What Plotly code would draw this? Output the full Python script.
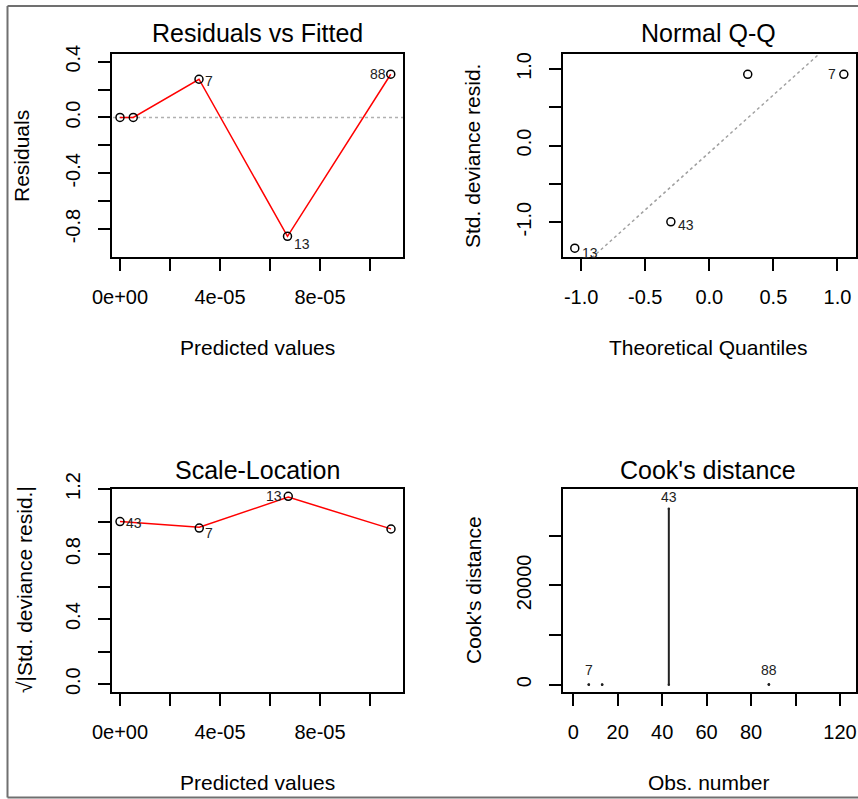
import plotly.graph_objects as go

W, H = 858, 799
FONT = "Liberation Sans, Arial, sans-serif"

# ---------------- data ----------------
# Residuals vs Fitted
rvf_x = [0.0, 5.3e-6, 3.16e-5, 6.7e-5, 1.083e-4]
rvf_y = [0.0, 0.0, 0.274, -0.852, 0.31]
rvf_lab = ["", "", "7", "13", "88"]

# Normal Q-Q
qq_theo = [-1.05, -0.30, 0.30, 1.05]
qq_resid = [-1.34, -0.996, 0.93, 0.93]
qq_lab = ["13", "43", "", "7"]
qq_slope, qq_icpt = 1.50, -0.09

# Scale-Location
sl_x = [0.0, 3.17e-5, 6.73e-5, 1.084e-4]
sl_y = [1.0, 0.96, 1.155, 0.954]
sl_smooth = [1.0, 0.965, 1.15, 0.955]
sl_lab = ["43", "7", "13", ""]

# Cook's distance
ck_obs = [7, 13, 43, 88]
ck_dist = [60, 40, 35400, 70]
ck_lab = ["7", "", "43", "88"]

# tick definitions
fit_ticks = [0, 2e-5, 4e-5, 6e-5, 8e-5, 1e-4]
fit_text = ["0e+00", "", "4e-05", "", "8e-05", ""]
res_ticks = [0.4, 0.2, 0.0, -0.2, -0.4, -0.6, -0.8]
res_text = ["0.4", "", "0.0", "", "-0.4", "", "-0.8"]
qqx_ticks = [-1.0, -0.5, 0.0, 0.5, 1.0]
qqx_text = ["-1.0", "-0.5", "0.0", "0.5", "1.0"]
qqy_ticks = [-1.0, -0.5, 0.0, 0.5, 1.0]
qqy_text = ["-1.0", "", "0.0", "", "1.0"]
sly_ticks = [0.0, 0.2, 0.4, 0.6, 0.8, 1.0, 1.2]
sly_text = ["0.0", "", "0.4", "", "0.8", "", "1.2"]
ckx_ticks = [0, 20, 40, 60, 80, 100, 120]
ckx_text = ["0", "20", "40", "60", "80", "", "120"]
cky_ticks = [0, 10000, 20000, 30000]
cky_text = ["0", "", "20000", ""]

# ---------------- layout helpers ----------------
def px_x(p):
    return p / W

def px_y(p):
    return 1 - p / H

boxes = {
    1: (112, 403, 54, 257),
    2: (563, 856, 54, 257),
    3: (112, 403, 489, 692),
    4: (563, 856, 489, 692),
}

fig = go.Figure()

marker = dict(symbol="circle-open", size=8, color="black", line=dict(width=1.5, color="black"))

# Panel 1
fig.add_trace(go.Scatter(x=[-1e-5, 1.2e-4], y=[0, 0], mode="lines",
                         line=dict(color="#b0b0b0", width=1.5, dash="dot"),
                         xaxis="x", yaxis="y", hoverinfo="skip"))
fig.add_trace(go.Scatter(x=rvf_x, y=rvf_y, mode="lines", line=dict(color="red", width=1.5),
                         xaxis="x", yaxis="y"))
fig.add_trace(go.Scatter(x=rvf_x, y=rvf_y, mode="markers", marker=marker, xaxis="x", yaxis="y"))

# Panel 2
qq_line_x = [-1.3, 1.3]
qq_line_y = [qq_icpt + qq_slope * v for v in qq_line_x]
fig.add_trace(go.Scatter(x=qq_line_x, y=qq_line_y, mode="lines",
                         line=dict(color="#a0a0a0", width=1.5, dash="dot"),
                         xaxis="x2", yaxis="y2"))
fig.add_trace(go.Scatter(x=qq_theo, y=qq_resid, mode="markers", marker=marker, xaxis="x2", yaxis="y2"))

# Panel 3
fig.add_trace(go.Scatter(x=sl_x, y=sl_smooth, mode="lines", line=dict(color="red", width=1.5),
                         xaxis="x3", yaxis="y3"))
fig.add_trace(go.Scatter(x=sl_x, y=sl_y, mode="markers", marker=marker, xaxis="x3", yaxis="y3"))

# Panel 4
stem_x, stem_y = [], []
for o, d in zip(ck_obs, ck_dist):
    stem_x += [o, o, None]
    stem_y += [0, d, None]
fig.add_trace(go.Scatter(x=stem_x, y=stem_y, mode="lines+markers",
                         line=dict(color="#222222", width=2),
                         marker=dict(size=2.5, color="#222222"),
                         xaxis="x4", yaxis="y4"))

# axes
def axis_common():
    return dict(showline=True, linecolor="black", linewidth=1.6, mirror=True,
                showgrid=False, zeroline=False, ticks="outside", ticklen=12,
                tickwidth=1.6, tickcolor="black", automargin=False,
                ticklabeloverflow="allow",
                tickfont=dict(family=FONT, size=20, color="black"),
                fixedrange=True)

ranges = {
    1: ([-3.2e-6, 1.132e-4], [-1.0, 0.455]),
    2: ([-1.142, 1.145], [-1.455, 1.195]),
    3: ([-3.2e-6, 1.132e-4], [-0.048, 1.2]),
    4: ([-4.6, 127.2], [-1470, 39376]),
}
xt = {1: (fit_ticks, fit_text), 2: (qqx_ticks, qqx_text), 3: (fit_ticks, fit_text), 4: (ckx_ticks, ckx_text)}
yt = {1: (res_ticks, res_text), 2: (qqy_ticks, qqy_text), 3: (sly_ticks, sly_text), 4: (cky_ticks, cky_text)}

layout_axes = {}
for i in range(1, 5):
    x0, x1, y0, y1 = boxes[i]
    sfx = "" if i == 1 else str(i)
    xa = axis_common()
    xa.update(domain=[px_x(x0), px_x(x1)], range=ranges[i][0], anchor="y" + sfx,
              tickmode="array", tickvals=xt[i][0], ticktext=xt[i][1], ticklabelstandoff=9)
    ya = axis_common()
    ya.update(domain=[px_y(y1), px_y(y0)], range=ranges[i][1], anchor="x" + sfx,
              tickmode="array", tickvals=yt[i][0], ticktext=yt[i][1], tickangle=-90,
              ticklabelstandoff=10)
    layout_axes["xaxis" + sfx] = xa
    layout_axes["yaxis" + sfx] = ya

annotations = []

def txt(x, y, s, size, angle=0):
    annotations.append(dict(x=px_x(x), y=px_y(y), xref="paper", yref="paper", text=s,
                            showarrow=False, textangle=angle, xanchor="center", yanchor="middle",
                            font=dict(family=FONT, size=size, color="black")))

# titles
txt(257, 33, "Residuals vs Fitted", 25)
txt(708, 33, "Normal Q-Q", 25)
txt(257, 470, "Scale-Location", 25)
txt(708, 470, "Cook's distance", 25)
# axis titles
txt(257, 347, "Predicted values", 21)
txt(708, 347, "Theoretical Quantiles", 21)
txt(257, 782, "Predicted values", 21)
txt(708, 782, "Obs. number", 21)
txt(22, 156, "Residuals", 21, -90)
txt(473, 156, "Std. deviance resid.", 21, -90)
txt(24, 590, "√|Std. deviance resid.|", 21, -90)
txt(473, 590, "Cook's distance", 21, -90)

# point labels
def plab(xs, ys, labs, sfx, offsets):
    for xv, yv, lb, off in zip(xs, ys, labs, offsets):
        if not lb:
            continue
        annotations.append(dict(x=xv, y=yv, xref="x" + sfx, yref="y" + sfx, text=lb,
                                showarrow=False, xshift=off[0], yshift=off[1],
                                font=dict(family=FONT, size=14, color="#222222")))

plab(rvf_x, rvf_y, rvf_lab, "", [(0, 0), (0, 0), (10, -2), (14, -8), (-13, 0)])
plab(qq_theo, qq_resid, qq_lab, "2", [(15, -5), (15, -3), (0, 0), (-12, 0)])
plab(sl_x, sl_y, sl_lab, "3", [(14, -1), (10, -5), (-14, 0), (0, 0)])
plab(ck_obs, ck_dist, ck_lab, "4", [(0, 14), (0, 0), (0, 12), (0, 14)])

# outer frame
frame = dict(type="line", xref="paper", yref="paper", line=dict(color="#707070", width=2))
shapes = [
    dict(frame, x0=px_x(7.5), x1=px_x(7.5), y0=px_y(6), y1=px_y(797.5)),
    dict(frame, x0=px_x(7.5), x1=1, y0=px_y(6), y1=px_y(6)),
    dict(frame, x0=px_x(7.5), x1=1, y0=px_y(797.5), y1=px_y(797.5)),
]

fig.update_layout(width=W, height=H, margin=dict(l=0, r=0, t=0, b=0),
                  paper_bgcolor="white", plot_bgcolor="white", showlegend=False,
                  annotations=annotations, shapes=shapes, **layout_axes)

fig.write_html("out.html")
